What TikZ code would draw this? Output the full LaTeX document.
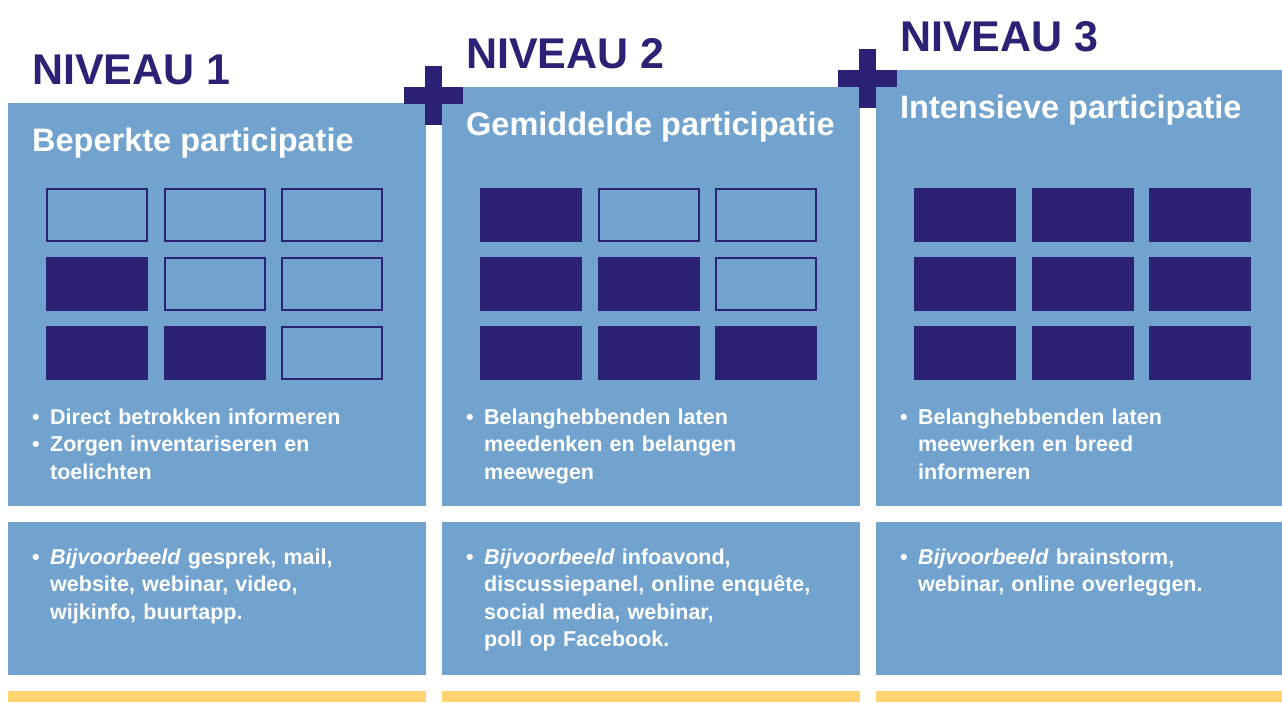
\documentclass[tikz,border=0pt]{standalone}
\usepackage{fontspec}
\setmainfont{Liberation Sans}
\definecolor{navy}{HTML}{2B2175}
\definecolor{boxblue}{HTML}{71A3CE}
\definecolor{baryellow}{HTML}{FDD470}
\newcommand{\bul}{\makebox[18pt][l]{•}}
\newcommand{\ind}{\hspace*{18pt}}

\begin{document}
\begin{tikzpicture}[x=1pt,y=-1pt]
		\tikzstyle{niveau}=[anchor=base west,inner sep=0pt,text=navy,font=\fontsize{43}{43}\selectfont\bfseries]
		\tikzstyle{kop}=[anchor=base west,inner sep=0pt,text=white,font=\fontsize{32.5}{32.5}\selectfont\bfseries]
		\tikzstyle{tekst}=[anchor=base west,inner sep=0pt,text=white,text width=380pt,align=left,font=\fontsize{21.5}{27.5}\selectfont\bfseries]
		\tikzstyle{cel}=[draw=navy,line width=2pt]
		\useasboundingbox (0,0) rectangle (1282,702);
		\fill[white] (0,0) rectangle (1282,702);
		\foreach \n/\x/\y/\w/\k in {1/8/103/418/0, 2/442/87/418/1, 3/876/70/406/3}{
			\fill[boxblue] (\x,\y) rectangle (\x+\w,506);
			\fill[boxblue] (\x,522) rectangle (\x+\w,675);
			\fill[baryellow] (\x,691) rectangle (\x+\w,702);
			\node[niveau] (niv\n) at (\x+24,\y-19) {NIVEAU \n};
			\foreach \r in {0,1,2}{
				\foreach \c in {0,1,2}{
					\ifnum\c<\numexpr\r+\k\relax
						\fill[navy] (\x+38+\c*117.5,188+\r*69) rectangle ++(102,54);
					\else
						\draw[cel] (\x+39+\c*117.5,189+\r*69) rectangle ++(100,52);
					\fi
				}
			}
		}
		\foreach \px/\py in {433.5/95.5, 867/78.5}{
			\fill[navy] (\px-29.5,\py-8.5) rectangle (\px+29.5,\py+8.5);
			\fill[navy] (\px-8.5,\py-29.5) rectangle (\px+8.5,\py+29.5);
		}
		\node[kop] (kop1) at (32,151) {Beperkte participatie};
		\node[kop] (kop2) at (466,135) {Gemiddelde participatie};
		\node[kop] (kop3) at (900,118) {Intensieve participatie};
		\node[tekst] (doel1) at (32,424) {\bul Direct betrokken informeren\\ \bul Zorgen inventariseren en\\ \ind toelichten};
		\node[tekst] (doel2) at (466,424) {\bul Belanghebbenden laten\\ \ind meedenken en belangen\\ \ind meewegen};
		\node[tekst] (doel3) at (900,424) {\bul Belanghebbenden laten\\ \ind meewerken en breed\\ \ind informeren};
		\node[tekst] (vb1) at (32,564) {\bul\textit{Bijvoorbeeld} gesprek, mail,\\ \ind website, webinar, video,\\ \ind wijkinfo, buurtapp.};
		\node[tekst] (vb2) at (466,564) {\bul\textit{Bijvoorbeeld} infoavond,\\ \ind discussiepanel, online enquête,\\ \ind social media, webinar,\\ \ind poll op Facebook.};
		\node[tekst] (vb3) at (900,564) {\bul\textit{Bijvoorbeeld} brainstorm,\\ \ind webinar, online overleggen.};
	\end{tikzpicture}
\end{document}
